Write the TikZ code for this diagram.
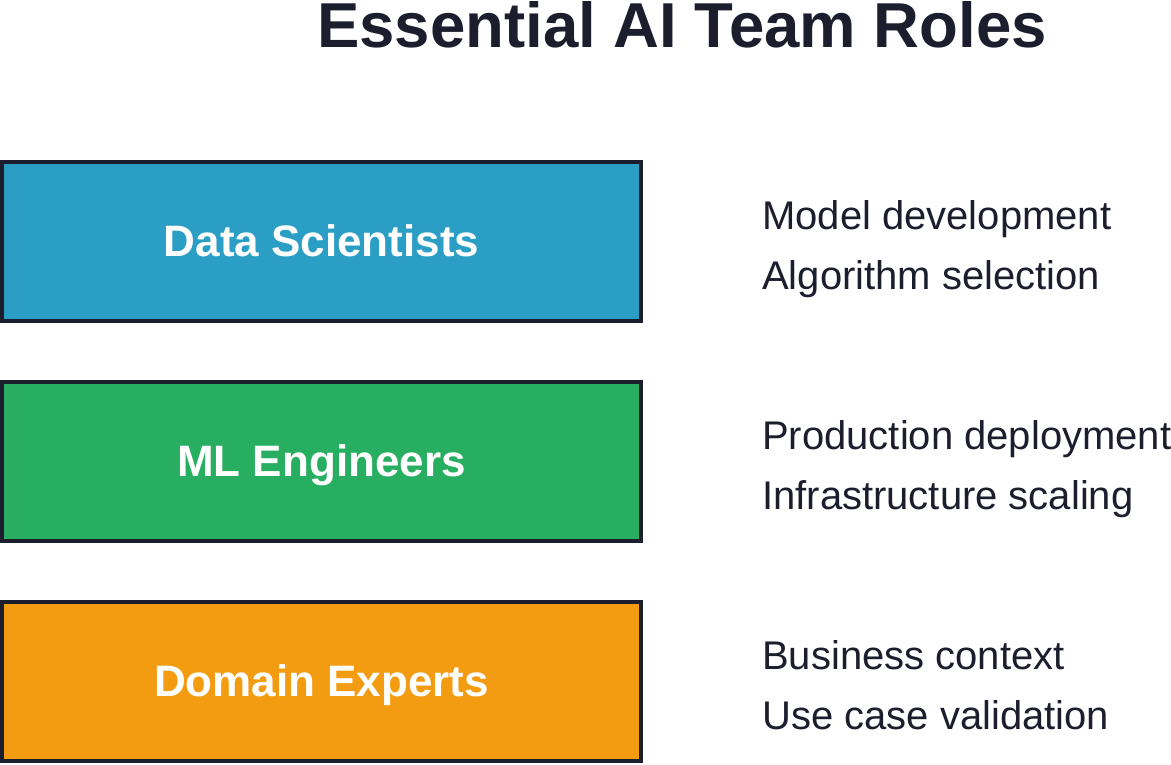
\documentclass[tikz,border=0pt]{standalone}
\usepackage{fontspec}
\setmainfont{Liberation Sans}
\usetikzlibrary{positioning}
\definecolor{inkdark}{HTML}{1C1E2E}
\definecolor{roleblue}{HTML}{2B9EC5}
\definecolor{rolegreen}{HTML}{27AE60}
\definecolor{roleorange}{HTML}{F39C12}

\tikzset{
 rolebox/.style={draw=inkdark, line width=4pt, minimum width=639pt, minimum height=159pt,
   inner sep=0pt, text=white, text depth=2pt, font=\fontsize{44}{52}\selectfont\bfseries},
 duty/.style={anchor=base west, inner sep=0pt, text=inkdark, font=\fontsize{40}{48}\selectfont}
}

\begin{document}
\begin{tikzpicture}[x=1pt,y=-1pt]
 \useasboundingbox (0,0) rectangle (1171,764);
 \node[anchor=base, inner sep=0pt, text=inkdark, font=\fontsize{63.5}{70}\selectfont\bfseries] (title) at (682,47) {Essential AI Team Roles};
 \node[rolebox, fill=roleblue] (DS) at (321.5,241.5) {Data Scientists};
 \node[rolebox, fill=rolegreen] (ML) at (321.5,461.5) {ML Engineers};
 \node[rolebox, fill=roleorange] (DE) at (321.5,681.5) {Domain Experts};
 \node[duty] (DS1) at (762,229) {Model development};
 \node[duty] (DS2) at (762,289) {Algorithm selection};
 \node[duty] (ML1) at (762,449) {Production deployment};
 \node[duty] (ML2) at (762,509) {Infrastructure scaling};
 \node[duty] (DE1) at (762,669) {Business context};
 \node[duty] (DE2) at (762,729) {Use case validation};
\end{tikzpicture}
\end{document}
